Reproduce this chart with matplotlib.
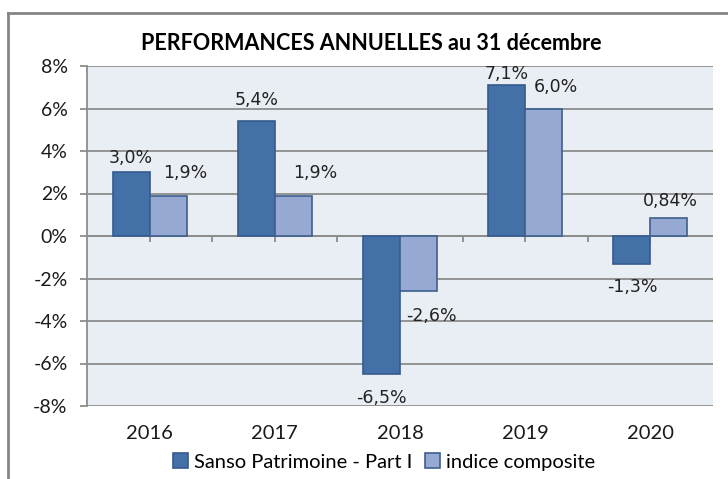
import matplotlib
matplotlib.use("Agg")
import matplotlib.pyplot as plt
import numpy as np
from matplotlib.patches import Patch
from matplotlib.ticker import FuncFormatter, MultipleLocator

YEARS = ["2016", "2017", "2018", "2019", "2020"]
FUND = [3.0, 5.4, -6.5, 7.1, -1.3]
INDEX = [1.9, 1.9, -2.6, 6.0, 0.84]
FUND_LABELS = ["3,0%", "5,4%", "-6,5%", "7,1%", "-1,3%"]
INDEX_LABELS = ["1,9%", "1,9%", "-2,6%", "6,0%", "0,84%"]
SERIES = ["Sanso Patrimoine - Part I", "indice composite"]

# label nudges in pixels (dx, distance from bar end), hand-placed like the original
FUND_NUDGE = [(0, 14), (0, 21), (0, 24), (0, 11), (0, 23)]
INDEX_NUDGE = [(17, 23), (22, 23), (13, 25), (12, 21), (2, 17)]

DARK, DARK_EDGE = "#4470a8", "#365a8c"
LIGHT, LIGHT_EDGE = "#95a9d3", "#3e5f8e"
FONT = ["Lato", "DejaVu Sans"]

fig = plt.figure(figsize=(7.28, 4.79), dpi=100)
# outer chart frame
fig.add_artist(plt.Line2D([8 / 728, 8 / 728], [0, 1 - 13 / 479], color="#858585", lw=2))
fig.add_artist(plt.Line2D([8 / 728, 1], [1 - 13 / 479] * 2, color="#858585", lw=2))

ax = fig.add_axes([87 / 728, 1 - 406 / 479, (713 - 87) / 728, (406 - 66) / 479])
ax.set_facecolor("#e9edf4")

x = np.arange(len(YEARS))
w = 0.295
b1 = ax.bar(x - w / 2, FUND, w, color=DARK, edgecolor=DARK_EDGE, linewidth=1.2, zorder=3)
b2 = ax.bar(x + w / 2, INDEX, w, color=LIGHT, edgecolor=LIGHT_EDGE, linewidth=1.2, zorder=3)

for bars, labels, nudges in ((b1, FUND_LABELS, FUND_NUDGE), (b2, INDEX_LABELS, INDEX_NUDGE)):
    for b, lab, (dx, dy) in zip(bars, labels, nudges):
        v = b.get_height()
        xc = b.get_x() + b.get_width() / 2
        sign = 1 if v >= 0 else -1
        ax.annotate(lab, (xc, v), xytext=(dx, sign * dy), textcoords="offset pixels",
                    ha="center", va="center", fontsize=12.5, family="DejaVu Sans",
                    color="#222222", zorder=4)

ax.set_xlim(-0.5, len(YEARS) - 0.5)
ax.set_ylim(-8, 8)
ax.yaxis.set_major_locator(MultipleLocator(2))
ax.yaxis.set_major_formatter(FuncFormatter(lambda v, _: f"{v:.0f}%"))
ax.grid(axis="y", color="#8c8c8c", lw=1.3, zorder=1)
ax.axhline(0, color="#8c8c8c", lw=1.3, zorder=2)

for s in ("top", "right", "bottom"):
    ax.spines[s].set_visible(False)
ax.spines["left"].set_color("#8c8c8c")
ax.spines["left"].set_linewidth(1.3)
ax.tick_params(axis="y", length=5, width=1.3, color="#8c8c8c", pad=9,
               labelsize=14, labelcolor="#1a1a1a")
for t in ax.get_yticklabels():
    t.set_family(FONT)

# year labels below the plot, tick marks on the zero line
ax.set_xticks(x)
ax.set_xticklabels(YEARS)
ax.tick_params(axis="x", length=0, pad=14, labelsize=14.5, labelcolor="#1a1a1a")
for t in ax.get_xticklabels():
    t.set_family(FONT)
tick_pos = np.arange(-0.5, len(YEARS), 0.5)[1:-1]
ax.vlines(tick_pos, -0.3, 0, color="#8c8c8c", lw=1.3, zorder=2)

fig.text(0.5 * (138 + 605) / 728, 1 - 44 / 479, "PERFORMANCES ANNUELLES au 31 décembre",
         ha="center", va="center", fontsize=15.5, fontweight="bold", family=FONT)

handles = [Patch(facecolor=DARK, edgecolor=DARK_EDGE, lw=1.2),
           Patch(facecolor=LIGHT, edgecolor=LIGHT_EDGE, lw=1.2)]
fig.legend(handles, SERIES, loc="center", bbox_to_anchor=(384 / 728, 1 - 462 / 479),
           ncol=2, frameon=False, prop={"family": FONT, "size": 14.5},
           handlelength=0.75, handleheight=0.75, handletextpad=0.3, columnspacing=0.6)

fig.savefig("out.png", dpi=100)
